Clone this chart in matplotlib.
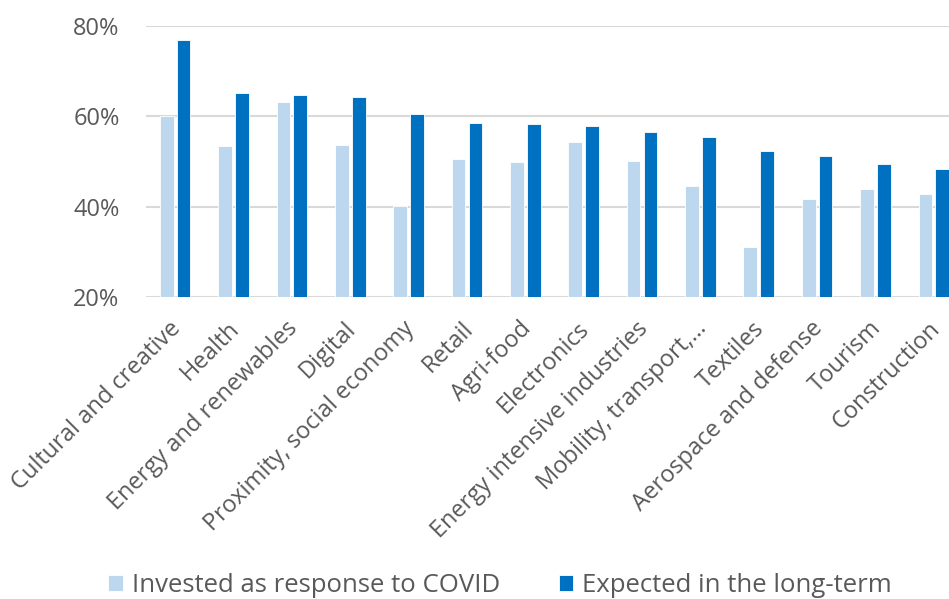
import matplotlib
matplotlib.use("Agg")
import matplotlib.pyplot as plt
import matplotlib.transforms as mtransforms
import numpy as np

# Sektory i udziały (%)
sectors = [
    "Cultural and creative", "Health", "Energy and renewables", "Digital",
    "Proximity, social economy", "Retail", "Agri-food", "Electronics",
    "Energy intensive industries", "Mobility, transport,…", "Textiles",
    "Aerospace and defense", "Tourism", "Construction",
]
invested_covid = [60.2, 53.4, 63.2, 53.6, 40.1, 50.6, 49.9, 54.3, 50.2, 44.6, 31.0, 41.7, 43.9, 42.9]
expected_long = [76.9, 65.3, 64.7, 64.3, 60.6, 58.5, 58.3, 57.9, 56.5, 55.5, 52.3, 51.2, 49.4, 48.4]
yticks = [20, 40, 60, 80]

light = "#BDD7EE"
dark = "#0070C0"
txt = "#595959"
grid_c = "#D9D9D9"

plt.rcParams["font.family"] = ["Open Sans", "DejaVu Sans"]

fig = plt.figure(figsize=(9.49, 5.99), dpi=100)
ax = fig.add_axes([146 / 949, 0.504, 817 / 949, 0.4524])

x = np.arange(len(sectors))
w = 0.235
ax.bar(x - 0.145, invested_covid, width=w, color=light, edgecolor="white",
       linewidth=0.6, label="Invested as response to COVID")
ax.bar(x + 0.145, expected_long, width=w, color=dark, edgecolor="white",
       linewidth=0.6, label="Expected in the long-term")

ax.set_xlim(-0.5, len(sectors) - 0.5)
ax.set_ylim(20, 80)
ax.set_yticks(yticks)
ax.set_yticklabels([f"{v}%" for v in yticks])
ax.set_axisbelow(True)
ax.grid(axis="y", color=grid_c, linewidth=1.5)

for s in ax.spines.values():
    s.set_visible(False)

ax.tick_params(axis="y", length=0, pad=19, labelsize=17, labelcolor=txt)
ax.tick_params(axis="x", length=0, pad=14, labelsize=17, labelcolor=txt)
ax.set_xticks(x)
ax.set_xticklabels(sectors, rotation=45, ha="right", va="top", rotation_mode="anchor")
offset = mtransforms.ScaledTranslation(-6 / 100, 0, fig.dpi_scale_trans)
for lbl in ax.get_xticklabels():
    lbl.set_transform(lbl.get_transform() + offset)

fig.legend(loc="center", bbox_to_anchor=(0.527, 0.022), ncol=2, frameon=False,
           fontsize=18.5, labelcolor=txt, handlelength=0.55, handleheight=0.55,
           handletextpad=0.35, columnspacing=2.3)

fig.savefig("out.png", dpi=100)
